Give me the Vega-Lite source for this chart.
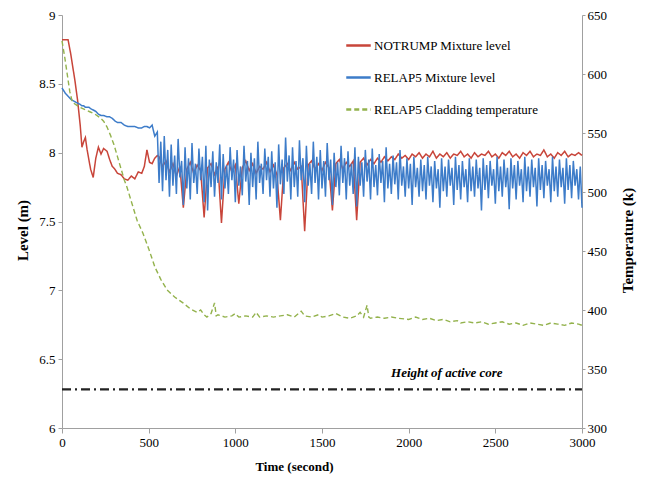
{
 "$schema": "https://vega.github.io/schema/vega-lite/v6.json",
 "width": 520, "height": 413,
 "autosize": {"type": "none"},
 "padding": {"left": 62, "top": 15, "right": 64, "bottom": 51},
 "background": "white",
 "config": {
  "view": {"stroke": null},
  "font": "Liberation Serif",
  "axis": {"labelFont": "Liberation Serif", "titleFont": "Liberation Serif", "labelFontSize": 13, "titleFontSize": 15, "titleFontWeight": "bold", "domainColor": "#a0a0a0", "tickColor": "#a0a0a0", "labelColor": "#000", "titleColor": "#000", "grid": false, "labelFlush": false},
  "legend": {"labelFont": "Liberation Serif", "labelFontSize": 13, "labelColor": "#000", "labelLimit": 400}
 },
 "datasets": {
  "red": [
   {"t":0,"notrump":8.82},{"t":20,"notrump":8.82},{"t":35,"notrump":8.82},{"t":50,"notrump":8.72},{"t":60,"notrump":8.64},{"t":75,"notrump":8.52},{"t":90,"notrump":8.38},{"t":105,"notrump":8.2},{"t":115,"notrump":8.04},{"t":125,"notrump":8.08},{"t":135,"notrump":8.11},{"t":145,"notrump":8.02},{"t":155,"notrump":7.95},{"t":165,"notrump":7.88},{"t":180,"notrump":7.82},{"t":195,"notrump":7.96},{"t":210,"notrump":8.04},{"t":225,"notrump":7.99},{"t":240,"notrump":8.03},{"t":260,"notrump":8.01},{"t":275,"notrump":7.95},{"t":290,"notrump":7.9},{"t":305,"notrump":7.88},{"t":320,"notrump":7.85},{"t":340,"notrump":7.84},{"t":360,"notrump":7.81},{"t":380,"notrump":7.8},{"t":400,"notrump":7.83},{"t":420,"notrump":7.81},{"t":440,"notrump":7.86},{"t":460,"notrump":7.85},{"t":475,"notrump":7.9},{"t":490,"notrump":8.02},{"t":505,"notrump":7.93},{"t":520,"notrump":7.92},{"t":535,"notrump":7.96},{"t":550,"notrump":7.98},
   {"t":560,"notrump":7.97},{"t":580,"notrump":7.9},{"t":600,"notrump":7.94},{"t":620,"notrump":7.86},{"t":640,"notrump":7.92},{"t":660,"notrump":7.83},{"t":680,"notrump":7.9},{"t":700,"notrump":7.6},{"t":720,"notrump":7.88},{"t":740,"notrump":7.93},{"t":760,"notrump":7.85},{"t":780,"notrump":7.91},{"t":800,"notrump":7.87},{"t":820,"notrump":7.53},{"t":840,"notrump":7.89},{"t":860,"notrump":7.92},{"t":880,"notrump":7.84},{"t":900,"notrump":7.9},{"t":920,"notrump":7.49},{"t":940,"notrump":7.88},{"t":960,"notrump":7.93},{"t":980,"notrump":7.86},{"t":1000,"notrump":7.91},{"t":1020,"notrump":7.63},{"t":1040,"notrump":7.89},{"t":1060,"notrump":7.94},{"t":1080,"notrump":7.87},{"t":1100,"notrump":7.92},{"t":1120,"notrump":7.85},{"t":1140,"notrump":7.9},{"t":1160,"notrump":7.88},{"t":1180,"notrump":7.93},{"t":1200,"notrump":7.86},{"t":1220,"notrump":7.91},{"t":1240,"notrump":7.84},{"t":1260,"notrump":7.51},{"t":1280,"notrump":7.89},{"t":1300,"notrump":7.92},{"t":1320,"notrump":7.87},{"t":1340,"notrump":7.93},{"t":1360,"notrump":7.88},{"t":1380,"notrump":7.9},{"t":1400,"notrump":7.43},{"t":1420,"notrump":7.91},{"t":1440,"notrump":7.94},{"t":1460,"notrump":7.88},{"t":1480,"notrump":7.92},{"t":1500,"notrump":7.87},{"t":1520,"notrump":7.93},{"t":1540,"notrump":7.89},{"t":1560,"notrump":7.58},{"t":1580,"notrump":7.92},{"t":1600,"notrump":7.95},{"t":1620,"notrump":7.88},{"t":1640,"notrump":7.93},{"t":1660,"notrump":7.9},{"t":1680,"notrump":7.94},{"t":1700,"notrump":7.51},{"t":1720,"notrump":7.93},{"t":1740,"notrump":7.96},{"t":1760,"notrump":7.91},{"t":1780,"notrump":7.95},{"t":1800,"notrump":7.92},{"t":1820,"notrump":7.96},{"t":1840,"notrump":7.93},{"t":1860,"notrump":7.97},{"t":1880,"notrump":7.94},{"t":1900,"notrump":7.97},{"t":1920,"notrump":7.95},{"t":1940,"notrump":7.99},{"t":1960,"notrump":7.96},{"t":1980,"notrump":7.98},{"t":2000,"notrump":7.95},{"t":2020,"notrump":7.99},{"t":2040,"notrump":7.97},{"t":2060,"notrump":8.0},{"t":2080,"notrump":7.96},{"t":2100,"notrump":7.99},{"t":2120,"notrump":7.97},{"t":2140,"notrump":8.01},{"t":2160,"notrump":7.96},{"t":2180,"notrump":7.99},{"t":2200,"notrump":7.97},{"t":2220,"notrump":8.0},{"t":2240,"notrump":7.96},{"t":2260,"notrump":7.99},{"t":2280,"notrump":7.98},{"t":2300,"notrump":8.01},{"t":2320,"notrump":7.97},{"t":2340,"notrump":7.99},{"t":2360,"notrump":7.96},{"t":2380,"notrump":8.0},{"t":2400,"notrump":7.97},{"t":2420,"notrump":7.99},{"t":2440,"notrump":7.98},{"t":2460,"notrump":8.01},{"t":2480,"notrump":7.97},{"t":2500,"notrump":7.99},{"t":2520,"notrump":7.96},{"t":2540,"notrump":8.0},{"t":2560,"notrump":7.98},{"t":2580,"notrump":8.01},{"t":2600,"notrump":7.97},{"t":2620,"notrump":7.99},{"t":2640,"notrump":7.96},{"t":2660,"notrump":8.0},{"t":2680,"notrump":7.98},{"t":2700,"notrump":8.01},{"t":2720,"notrump":7.97},{"t":2740,"notrump":7.99},{"t":2760,"notrump":7.98},{"t":2780,"notrump":8.02},{"t":2800,"notrump":7.97},{"t":2820,"notrump":7.99},{"t":2840,"notrump":7.96},{"t":2860,"notrump":8.0},{"t":2880,"notrump":7.98},{"t":2900,"notrump":8.01},{"t":2920,"notrump":7.97},{"t":2940,"notrump":7.99},{"t":2960,"notrump":7.98},{"t":2980,"notrump":8.0},{"t":3000,"notrump":7.98}
  ],
  "blue": [
   {"t":0,"relap5":8.47},{"t":20,"relap5":8.43},{"t":35,"relap5":8.41},{"t":50,"relap5":8.39},{"t":60,"relap5":8.38},{"t":75,"relap5":8.37},{"t":90,"relap5":8.36},{"t":105,"relap5":8.35},{"t":115,"relap5":8.34},{"t":125,"relap5":8.34},{"t":135,"relap5":8.33},{"t":145,"relap5":8.33},{"t":155,"relap5":8.33},{"t":165,"relap5":8.32},{"t":180,"relap5":8.31},{"t":195,"relap5":8.3},{"t":210,"relap5":8.28},{"t":225,"relap5":8.27},{"t":240,"relap5":8.27},{"t":260,"relap5":8.26},{"t":275,"relap5":8.26},{"t":290,"relap5":8.25},{"t":305,"relap5":8.23},{"t":320,"relap5":8.22},{"t":340,"relap5":8.22},{"t":360,"relap5":8.2},{"t":380,"relap5":8.19},{"t":400,"relap5":8.19},{"t":420,"relap5":8.19},{"t":440,"relap5":8.18},{"t":460,"relap5":8.18},{"t":475,"relap5":8.19},{"t":490,"relap5":8.19},{"t":505,"relap5":8.18},{"t":520,"relap5":8.2},{"t":535,"relap5":8.12},{"t":550,"relap5":8.15},
   {"t":560,"relap5":7.78},{"t":570,"relap5":8.08},{"t":580,"relap5":7.72},{"t":590,"relap5":8.12},{"t":600,"relap5":7.8},{"t":610,"relap5":8.02},{"t":620,"relap5":7.68},{"t":630,"relap5":8.06},{"t":640,"relap5":7.76},{"t":650,"relap5":7.98},{"t":660,"relap5":7.7},{"t":670,"relap5":8.1},{"t":680,"relap5":7.82},{"t":690,"relap5":7.94},{"t":700,"relap5":7.62},{"t":710,"relap5":8.04},{"t":720,"relap5":7.74},{"t":730,"relap5":7.96},{"t":740,"relap5":7.66},{"t":750,"relap5":8.07},{"t":760,"relap5":7.78},{"t":770,"relap5":7.92},{"t":780,"relap5":7.7},{"t":790,"relap5":8.03},{"t":800,"relap5":7.8},{"t":810,"relap5":7.97},{"t":820,"relap5":7.64},{"t":830,"relap5":8.05},{"t":840,"relap5":7.58},{"t":850,"relap5":7.95},{"t":860,"relap5":7.75},{"t":870,"relap5":8.01},{"t":880,"relap5":7.68},{"t":890,"relap5":7.93},{"t":900,"relap5":7.78},{"t":910,"relap5":8.06},{"t":920,"relap5":7.66},{"t":930,"relap5":7.99},{"t":940,"relap5":7.74},{"t":950,"relap5":7.91},{"t":960,"relap5":7.7},{"t":970,"relap5":8.04},{"t":980,"relap5":7.8},{"t":990,"relap5":7.95},{"t":1000,"relap5":7.64},{"t":1010,"relap5":8.02},{"t":1020,"relap5":7.76},{"t":1030,"relap5":7.9},{"t":1040,"relap5":7.69},{"t":1050,"relap5":8.05},{"t":1060,"relap5":7.79},{"t":1070,"relap5":7.94},{"t":1080,"relap5":7.62},{"t":1090,"relap5":8.0},{"t":1100,"relap5":7.75},{"t":1110,"relap5":7.96},{"t":1120,"relap5":7.66},{"t":1130,"relap5":8.08},{"t":1140,"relap5":7.78},{"t":1150,"relap5":7.92},{"t":1160,"relap5":7.7},{"t":1170,"relap5":8.03},{"t":1180,"relap5":7.8},{"t":1190,"relap5":7.97},{"t":1200,"relap5":7.68},{"t":1210,"relap5":8.01},{"t":1220,"relap5":7.74},{"t":1230,"relap5":7.93},{"t":1240,"relap5":7.6},{"t":1250,"relap5":8.06},{"t":1260,"relap5":7.77},{"t":1270,"relap5":7.95},{"t":1280,"relap5":7.7},{"t":1290,"relap5":8.11},{"t":1300,"relap5":7.79},{"t":1310,"relap5":7.98},{"t":1320,"relap5":7.66},{"t":1330,"relap5":8.04},{"t":1340,"relap5":7.75},{"t":1350,"relap5":7.94},{"t":1360,"relap5":7.68},{"t":1370,"relap5":8.09},{"t":1380,"relap5":7.8},{"t":1390,"relap5":7.96},{"t":1400,"relap5":7.64},{"t":1410,"relap5":8.05},{"t":1420,"relap5":7.76},{"t":1430,"relap5":7.92},{"t":1440,"relap5":7.7},{"t":1450,"relap5":8.08},{"t":1460,"relap5":7.78},{"t":1470,"relap5":7.97},{"t":1480,"relap5":7.66},{"t":1490,"relap5":8.02},{"t":1500,"relap5":7.74},{"t":1510,"relap5":7.94},{"t":1520,"relap5":7.68},{"t":1530,"relap5":8.07},{"t":1540,"relap5":7.8},{"t":1550,"relap5":7.95},{"t":1560,"relap5":7.62},{"t":1570,"relap5":8.0},{"t":1580,"relap5":7.75},{"t":1590,"relap5":7.93},{"t":1600,"relap5":7.69},{"t":1610,"relap5":8.05},{"t":1620,"relap5":7.78},{"t":1630,"relap5":7.96},{"t":1640,"relap5":7.66},{"t":1650,"relap5":8.01},{"t":1660,"relap5":7.76},{"t":1670,"relap5":7.92},{"t":1680,"relap5":7.7},{"t":1690,"relap5":8.04},{"t":1700,"relap5":7.61},{"t":1710,"relap5":7.97},{"t":1720,"relap5":7.76},{"t":1730,"relap5":7.93},{"t":1740,"relap5":7.68},{"t":1750,"relap5":8.02},{"t":1760,"relap5":7.79},{"t":1770,"relap5":7.95},{"t":1780,"relap5":7.66},{"t":1790,"relap5":8.03},{"t":1800,"relap5":7.75},{"t":1810,"relap5":7.91},{"t":1820,"relap5":7.69},{"t":1830,"relap5":7.99},{"t":1840,"relap5":7.78},{"t":1850,"relap5":7.94},{"t":1860,"relap5":7.64},{"t":1870,"relap5":8.04},{"t":1880,"relap5":7.74},{"t":1890,"relap5":7.92},{"t":1900,"relap5":7.7},{"t":1910,"relap5":7.98},{"t":1920,"relap5":7.77},{"t":1930,"relap5":7.93},{"t":1940,"relap5":7.66},{"t":1950,"relap5":8.02},{"t":1960,"relap5":7.76},{"t":1970,"relap5":7.9},{"t":1980,"relap5":7.68},{"t":1990,"relap5":7.96},{"t":2000,"relap5":7.74},{"t":2010,"relap5":7.92},{"t":2020,"relap5":7.62},{"t":2030,"relap5":7.97},{"t":2040,"relap5":7.75},{"t":2050,"relap5":7.89},{"t":2060,"relap5":7.68},{"t":2070,"relap5":7.95},{"t":2080,"relap5":7.72},{"t":2090,"relap5":7.91},{"t":2100,"relap5":7.66},{"t":2110,"relap5":7.97},{"t":2120,"relap5":7.76},{"t":2130,"relap5":7.9},{"t":2140,"relap5":7.64},{"t":2150,"relap5":7.94},{"t":2160,"relap5":7.74},{"t":2170,"relap5":7.88},{"t":2180,"relap5":7.6},{"t":2190,"relap5":7.96},{"t":2200,"relap5":7.72},{"t":2210,"relap5":7.9},{"t":2220,"relap5":7.68},{"t":2230,"relap5":7.95},{"t":2240,"relap5":7.76},{"t":2250,"relap5":7.89},{"t":2260,"relap5":7.62},{"t":2270,"relap5":7.97},{"t":2280,"relap5":7.73},{"t":2290,"relap5":7.91},{"t":2300,"relap5":7.66},{"t":2310,"relap5":7.94},{"t":2320,"relap5":7.75},{"t":2330,"relap5":7.88},{"t":2340,"relap5":7.64},{"t":2350,"relap5":7.96},{"t":2360,"relap5":7.72},{"t":2370,"relap5":7.9},{"t":2380,"relap5":7.68},{"t":2390,"relap5":7.95},{"t":2400,"relap5":7.74},{"t":2410,"relap5":7.89},{"t":2420,"relap5":7.58},{"t":2430,"relap5":7.96},{"t":2440,"relap5":7.73},{"t":2450,"relap5":7.91},{"t":2460,"relap5":7.67},{"t":2470,"relap5":7.94},{"t":2480,"relap5":7.76},{"t":2490,"relap5":7.88},{"t":2500,"relap5":7.63},{"t":2510,"relap5":7.97},{"t":2520,"relap5":7.72},{"t":2530,"relap5":7.9},{"t":2540,"relap5":7.68},{"t":2550,"relap5":7.95},{"t":2560,"relap5":7.75},{"t":2570,"relap5":7.89},{"t":2580,"relap5":7.59},{"t":2590,"relap5":7.96},{"t":2600,"relap5":7.74},{"t":2610,"relap5":7.91},{"t":2620,"relap5":7.66},{"t":2630,"relap5":7.94},{"t":2640,"relap5":7.76},{"t":2650,"relap5":7.88},{"t":2660,"relap5":7.64},{"t":2670,"relap5":7.97},{"t":2680,"relap5":7.72},{"t":2690,"relap5":7.9},{"t":2700,"relap5":7.68},{"t":2710,"relap5":7.95},{"t":2720,"relap5":7.75},{"t":2730,"relap5":7.89},{"t":2740,"relap5":7.61},{"t":2750,"relap5":7.96},{"t":2760,"relap5":7.73},{"t":2770,"relap5":7.91},{"t":2780,"relap5":7.67},{"t":2790,"relap5":7.94},{"t":2800,"relap5":7.76},{"t":2810,"relap5":7.88},{"t":2820,"relap5":7.64},{"t":2830,"relap5":7.97},{"t":2840,"relap5":7.72},{"t":2850,"relap5":7.9},{"t":2860,"relap5":7.68},{"t":2870,"relap5":7.95},{"t":2880,"relap5":7.75},{"t":2890,"relap5":7.89},{"t":2900,"relap5":7.63},{"t":2910,"relap5":7.96},{"t":2920,"relap5":7.73},{"t":2930,"relap5":7.91},{"t":2940,"relap5":7.67},{"t":2950,"relap5":7.94},{"t":2960,"relap5":7.76},{"t":2970,"relap5":7.88},{"t":2980,"relap5":7.66},{"t":2990,"relap5":7.9},{"t":3000,"relap5":7.6}
  ],
  "temp": [
   {"t":0,"clad":628},{"t":15,"clad":615},{"t":30,"clad":600},{"t":45,"clad":585},{"t":60,"clad":576},{"t":80,"clad":574},{"t":100,"clad":572},{"t":130,"clad":570},{"t":160,"clad":568},{"t":190,"clad":566},{"t":220,"clad":563},{"t":240,"clad":560},{"t":260,"clad":555},{"t":280,"clad":548},{"t":300,"clad":540},{"t":320,"clad":530},{"t":340,"clad":520},{"t":360,"clad":510},{"t":375,"clad":504},{"t":400,"clad":492},{"t":433,"clad":476},{"t":467,"clad":465},{"t":500,"clad":452},{"t":537,"clad":436},{"t":570,"clad":426},{"t":606,"clad":417},{"t":650,"clad":411},{"t":698,"clad":406},{"t":740,"clad":401},{"t":780,"clad":398},{"t":800,"clad":400},{"t":820,"clad":396},{"t":836,"clad":394},{"t":860,"clad":397},{"t":880,"clad":406},{"t":890,"clad":395},{"t":900,"clad":396},{"t":940,"clad":394},{"t":980,"clad":395},{"t":1000,"clad":397},{"t":1020,"clad":394},{"t":1060,"clad":395},{"t":1100,"clad":394},{"t":1120,"clad":398},{"t":1140,"clad":394},{"t":1180,"clad":395},{"t":1220,"clad":394},{"t":1260,"clad":395},{"t":1300,"clad":396},{"t":1340,"clad":394},{"t":1380,"clad":399},{"t":1400,"clad":395},{"t":1440,"clad":394},{"t":1480,"clad":396},{"t":1500,"clad":394},{"t":1540,"clad":395},{"t":1580,"clad":397},{"t":1620,"clad":394},{"t":1660,"clad":393},{"t":1700,"clad":395},{"t":1720,"clad":398},{"t":1740,"clad":394},{"t":1760,"clad":404},{"t":1770,"clad":394},{"t":1780,"clad":393},{"t":1820,"clad":394},{"t":1860,"clad":393},{"t":1900,"clad":394},{"t":1940,"clad":393},{"t":2000,"clad":392},{"t":2040,"clad":394},{"t":2080,"clad":392},{"t":2120,"clad":393},{"t":2160,"clad":391},{"t":2200,"clad":392},{"t":2240,"clad":390},{"t":2280,"clad":391},{"t":2300,"clad":389},{"t":2340,"clad":390},{"t":2380,"clad":389},{"t":2420,"clad":390},{"t":2460,"clad":388},{"t":2500,"clad":389},{"t":2540,"clad":390},{"t":2580,"clad":388},{"t":2620,"clad":389},{"t":2660,"clad":387},{"t":2700,"clad":389},{"t":2740,"clad":388},{"t":2780,"clad":387},{"t":2820,"clad":389},{"t":2860,"clad":388},{"t":2900,"clad":387},{"t":2940,"clad":389},{"t":2980,"clad":388},{"t":3000,"clad":387}
  ],
  "core": [{"t":0,"v":6.28},{"t":3000,"v":6.28}],
  "corelabel": [{"t":2220,"v":6.4,"label":"Height of active core"}]
 },
 "layer": [
  {
   "layer": [
    {
     "data": {"name": "red"},
     "transform": [{"fold": ["notrump"], "as": ["series", "v"]}],
     "mark": {"type": "line", "strokeWidth": 1.5},
     "encoding": {
      "x": {"field": "t", "type": "quantitative", "scale": {"domain": [0, 3000], "nice": false},
            "axis": {"values": [0,500,1000,1500,2000,2500,3000], "format": "d", "tickSize": 5, "labelPadding": 3, "title": "Time (second)", "titleFontSize": 13, "titleX": 232, "titleY": 38, "titleBaseline": "middle"}},
      "y": {"field": "v", "type": "quantitative", "scale": {"domain": [6, 9], "nice": false},
            "axis": {"values": [6,6.5,7,7.5,8,8.5,9], "labelExpr": "'' + datum.value", "tickSize": 4, "labelPadding": 3, "title": "Level (m)", "titleAngle": 270, "titleX": -40, "titleY": 215, "titleBaseline": "middle", "titleAlign": "center"}},
      "color": {"field": "series", "type": "nominal",
                "scale": {"domain": ["notrump", "relap5", "clad"], "range": ["#c8453a", "#3d7cc9", "#93b24c"]},
                "legend": {"title": null, "orient": "none", "legendX": 283, "legendY": 17, "symbolType": "stroke", "symbolSize": 600, "symbolStrokeWidth": 2.5, "rowPadding": 11, "labelOffset": 2,
                           "labelExpr": "datum.label == 'notrump' ? 'NOTRUMP Mixture level' : datum.label == 'relap5' ? 'RELAP5 Mixture level' : 'RELAP5 Cladding temperature'"}},
      "strokeDash": {"field": "series", "type": "nominal",
                "scale": {"domain": ["notrump", "relap5", "clad"], "range": [[1,0],[1,0],[5,3]]},
                "legend": {"title": null, "orient": "none", "legendX": 283, "legendY": 17, "symbolType": "stroke", "symbolSize": 600, "symbolStrokeWidth": 2.5, "rowPadding": 11, "labelOffset": 2,
                           "labelExpr": "datum.label == 'notrump' ? 'NOTRUMP Mixture level' : datum.label == 'relap5' ? 'RELAP5 Mixture level' : 'RELAP5 Cladding temperature'"}}
     }
    },
    {
     "data": {"name": "blue"},
     "transform": [{"fold": ["relap5"], "as": ["series", "v"]}],
     "mark": {"type": "line", "strokeWidth": 1.5},
     "encoding": {
      "x": {"field": "t", "type": "quantitative"},
      "y": {"field": "v", "type": "quantitative"},
      "color": {"field": "series", "type": "nominal"},
      "strokeDash": {"field": "series", "type": "nominal"}
     }
    },
    {
     "data": {"name": "core"},
     "mark": {"type": "line", "color": "#222", "strokeWidth": 2.2, "strokeDash": [9, 4, 2, 4]},
     "encoding": {"x": {"field": "t", "type": "quantitative"}, "y": {"field": "v", "type": "quantitative"}}
    },
    {
     "data": {"name": "corelabel"},
     "mark": {"type": "text", "font": "Liberation Serif", "fontStyle": "italic", "fontWeight": "bold", "fontSize": 13, "color": "#000"},
     "encoding": {"x": {"field": "t", "type": "quantitative"}, "y": {"field": "v", "type": "quantitative"}, "text": {"field": "label"}}
    }
   ]
  },
  {
   "data": {"name": "temp"},
   "transform": [{"fold": ["clad"], "as": ["series", "v"]}],
   "mark": {"type": "line", "strokeWidth": 1.4},
   "encoding": {
    "x": {"field": "t", "type": "quantitative"},
    "y": {"field": "v", "type": "quantitative", "scale": {"domain": [300, 650], "nice": false},
          "axis": {"orient": "right", "values": [300,350,400,450,500,550,600,650], "tickSize": 3, "labelPadding": 2, "title": "Temperature (k)", "titleAngle": 270, "titleX": 45, "titleY": 225, "titleBaseline": "middle", "titleAlign": "center"}},
    "color": {"field": "series", "type": "nominal"},
    "strokeDash": {"field": "series", "type": "nominal"}
   }
  }
 ],
 "resolve": {"scale": {"y": "independent"}}
}
